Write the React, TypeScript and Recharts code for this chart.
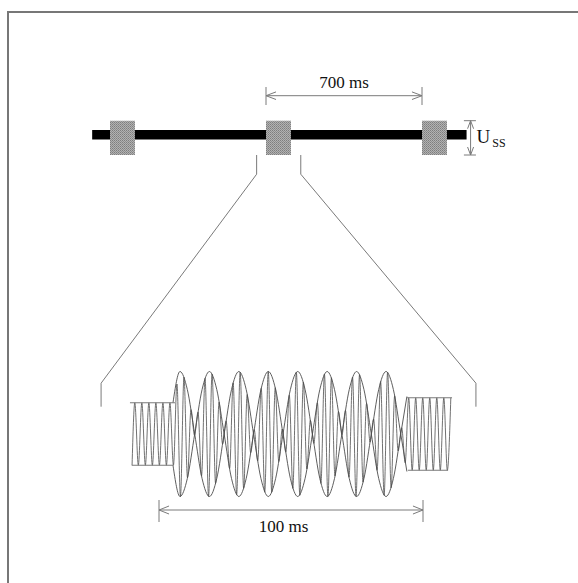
import React from 'react';
import {
  ComposedChart,
  Line,
  XAxis,
  YAxis,
  ReferenceArea,
  ReferenceDot,
} from 'recharts';

const W = 578;
const H = 583;
const SERIF = '"Liberation Serif", "Times New Roman", Times, serif';

// ---- overview strip: time in ms, level in arbitrary units ----
const burstStarts = [0, 700, 1400];
const burstLength = 112;
const stripSpan = [-80, 1600];
const stripLevel = [-0.95, 0.95];
const burstLevel = [-4.06, 2.8];
const periodMarks = [700, 1400];
const periodLabel = '700 ms';
const ussAt = 1618;

// zoom guide lines (overview units)
const guideLeftT = [658, 658, -40, -40];
const guideRightT = [856, 856, 1642, 1642];
const guideV = [-4.06, -7.9, -49.7, -54.4];

// ---- detail: time in ms, amplitude ----
const leftCarrierT = [-10.2, -9.16, -7.83, -6.5, -5.17, -3.84, -2.51, -1.18, 0.15, 1.48, 2.81, 4.14, 5.47];
const leftCarrierV = [-0.5, 0.5, -0.5, 0.5, -0.5, 0.5, -0.5, 0.5, -0.5, 0.5, -0.5, 0.5, -0.5];

const beatT = [
  6.8, 8.13, 9.46, 10.79, 12.12, 13.45, 14.78, 16.11, 17.44, 18.77, 20.1, 21.43, 22.76, 24.09,
  25.42, 26.75, 28.08, 29.41, 30.74, 32.07, 33.4, 34.73, 36.06, 37.39, 38.72, 40.05, 41.38, 42.71,
  44.04, 45.37, 46.7, 48.03, 49.36, 50.69, 52.02, 53.35, 54.68, 56.01, 57.34, 58.67, 60.0, 61.33,
  62.66, 63.99, 65.32, 66.65, 67.98, 69.31, 70.64, 71.97, 73.3, 74.63, 75.96, 77.29, 78.62, 79.95,
  81.28, 82.61, 83.94, 85.27, 86.6, 87.93, 89.26, 90.59, 91.92, 93.25,
];
const beatV = [
  0.8, -1.0, 0.91, -0.7, 0.39, -0.02, 0.35, -0.67, 0.89, -1.0, 0.96, -0.79, 0.51, -0.16,
  0.21, -0.55, 0.82, -0.97, 0.99, -0.87, 0.63, -0.3, 0.07, -0.43, 0.73, -0.93, 1.0, -0.93,
  0.74, -0.44, 0.08, -0.29, 0.62, -0.87, 0.99, -0.98, 0.83, -0.56, 0.22, -0.15, 0.5, -0.79,
  0.96, -1.0, 0.9, -0.67, 0.36, -0.01, 0.38, -0.69, 0.91, -1.0, 0.95, -0.77, 0.49, -0.13,
  0.24, -0.58, 0.84, -0.98, 0.99, -0.86, 0.61, -0.27, 0.1, -0.46,
];

const rightCarrierT = [94.58, 95.91, 97.24, 98.57, 99.9, 101.23, 102.56, 103.89, 105.22, 106.55, 107.88, 109.21, 110.54];
const rightCarrierV = [0.58, -0.58, 0.58, -0.58, 0.58, -0.58, 0.58, -0.58, 0.58, -0.58, 0.58, -0.58, 0.58];

// beat envelope: lobe peaks, shoulders and nodes
const envT = [
  5.3, 7.95, 10.74, 13.52, 16.31, 19.1, 21.89, 24.67, 27.46, 30.25, 33.04, 35.82, 38.61, 41.4,
  44.19, 46.97, 49.76, 52.55, 55.34, 58.12, 60.91, 63.7, 66.49, 69.27, 72.06, 74.85, 77.64,
  80.42, 83.21, 86.0, 88.79, 91.57, 93.9,
];
const envV = [
  0.5, 1, 0.71, 0, -0.71, -1, -0.71, 0, 0.71, 1, 0.71, 0, -0.71, -1,
  -0.71, 0, 0.71, 1, 0.71, 0, -0.71, -1, -0.71, 0, 0.71, 1, 0.71,
  0, -0.71, -1, -0.71, 0, 0.6,
];

// carrier clip levels
const leftCap = { t: [-11, 6.06], v: 0.5 };
const rightCap = { t: [93.9, 111], v: 0.58 };

const spanMs = [0, 100];
const spanLabel = '100 ms';

// pixel mapping of each panel
const overview = { x0: 110, kx: 156 / 700, y0: 134.7, ky: 5 };
const detail = { x0: 159, kx: 2.64, y0: 434, ky: 62.5 };
const domX = (s: typeof overview) => [-s.x0 / s.kx, (W - s.x0) / s.kx];
const domY = (s: typeof overview) => [-(H - s.y0) / s.ky, s.y0 / s.ky];

const pts = (xs: number[], ys: number[]) => xs.map((x, i) => ({ x, y: ys[i] }));
const seg = (x1: number, y1: number, x2: number, y2: number) => [
  { x: x1, y: y1 },
  { x: x2, y: y2 },
];

const GRAY = '#7a7a7a';
const WAVE = '#4c4c4c';

const lineProps = {
  dataKey: 'y',
  dot: false,
  activeDot: false,
  isAnimationActive: false,
  legendType: 'none' as const,
};

const App = () => {
  // overview arrow geometry
  const arrowV = 7.8;
  const headT = 45;
  const headV = 0.76;
  const ussHead = 1.6;
  const ussHalf = 13.5;
  const overviewSegs = [
    seg(periodMarks[0], arrowV, periodMarks[1], arrowV),
    seg(periodMarks[0], 9.54, periodMarks[0], 5.94),
    seg(periodMarks[1], 9.54, periodMarks[1], 5.94),
    [
      { x: periodMarks[0] + headT, y: arrowV + headV },
      { x: periodMarks[0], y: arrowV },
      { x: periodMarks[0] + headT, y: arrowV - headV },
    ],
    [
      { x: periodMarks[1] - headT, y: arrowV + headV },
      { x: periodMarks[1], y: arrowV },
      { x: periodMarks[1] - headT, y: arrowV - headV },
    ],
    seg(ussAt, burstLevel[1], ussAt, burstLevel[0]),
    seg(ussAt - 30, burstLevel[1], ussAt + 24, burstLevel[1]),
    seg(ussAt - 30, burstLevel[0], ussAt + 24, burstLevel[0]),
    [
      { x: ussAt - ussHalf, y: burstLevel[1] - ussHead },
      { x: ussAt, y: burstLevel[1] },
      { x: ussAt + ussHalf, y: burstLevel[1] - ussHead },
    ],
    [
      { x: ussAt - ussHalf, y: burstLevel[0] + ussHead },
      { x: ussAt, y: burstLevel[0] },
      { x: ussAt + ussHalf, y: burstLevel[0] + ussHead },
    ],
    pts(guideLeftT, guideV),
    pts(guideRightT, guideV),
  ];

  // detail arrow geometry
  const spanV = -1.216;
  const dHeadT = 3.8;
  const dHeadV = 0.064;
  const detailSegs = [
    seg(leftCap.t[0], leftCap.v, leftCap.t[1], leftCap.v),
    seg(-10.3, -leftCap.v, 5.3, -leftCap.v),
    seg(rightCap.t[0], rightCap.v, rightCap.t[1], rightCap.v),
    seg(94.3, -rightCap.v, 109.5, -rightCap.v),
    seg(spanMs[0], spanV, spanMs[1], spanV),
    seg(spanMs[0], -1.056, spanMs[0], -1.408),
    seg(spanMs[1], -1.056, spanMs[1], -1.408),
    [
      { x: spanMs[0] + dHeadT, y: spanV + dHeadV },
      { x: spanMs[0], y: spanV },
      { x: spanMs[0] + dHeadT, y: spanV - dHeadV },
    ],
    [
      { x: spanMs[1] - dHeadT, y: spanV + dHeadV },
      { x: spanMs[1], y: spanV },
      { x: spanMs[1] - dHeadT, y: spanV - dHeadV },
    ],
  ];

  const signal = [
    ...pts(leftCarrierT, leftCarrierV),
    ...pts(beatT, beatV),
    ...pts(rightCarrierT, rightCarrierV),
  ];
  const envUpper = pts(envT, envV);
  const envLower = pts(envT, envV.map((v) => -v));

  const margin = { top: 0, right: 0, bottom: 0, left: 0 };
  const textStyle = { fontFamily: SERIF };

  return (
    <div style={{ position: 'absolute', left: 0, top: 0, width: W, height: H, background: '#fff', overflow: 'hidden' }}>
      <div
        style={{
          position: 'absolute',
          left: 7,
          top: 11,
          width: W,
          height: H,
          borderLeft: '2px solid #777',
          borderTop: '2px solid #777',
        }}
      />
      <div style={{ position: 'absolute', left: 0, top: 0 }}>
        <ComposedChart width={W} height={H} margin={margin}>
          <defs>
            <pattern id="stipple" width="2" height="2" patternUnits="userSpaceOnUse">
              <rect width="2" height="2" fill="#b2b2b2" />
              <rect width="1" height="1" fill="#7e7e7e" />
              <rect x="1" y="1" width="1" height="1" fill="#8e8e8e" />
            </pattern>
          </defs>
          <XAxis type="number" dataKey="x" domain={domX(overview)} allowDataOverflow hide />
          <YAxis type="number" domain={domY(overview)} allowDataOverflow hide />
          <ReferenceArea
            x1={stripSpan[0]}
            x2={stripSpan[1]}
            y1={stripLevel[0]}
            y2={stripLevel[1]}
            fill="#000"
            fillOpacity={1}
          />
          {burstStarts.map((s) => (
            <ReferenceArea
              key={s}
              x1={s}
              x2={s + burstLength}
              y1={burstLevel[0]}
              y2={burstLevel[1]}
              fill="url(#stipple)"
              fillOpacity={1}
            />
          ))}
          {overviewSegs.map((d, i) => (
            <Line key={'o' + i} {...lineProps} data={d} type="linear" stroke={GRAY} strokeWidth={1} />
          ))}
          <ReferenceDot
            x={(periodMarks[0] + periodMarks[1]) / 2}
            y={9.28}
            r={0}
            shape={(p: any) => (
              <text x={p.cx} y={p.cy} textAnchor="middle" style={{ ...textStyle, fontSize: 17 }} fill="#111">
                {periodLabel}
              </text>
            )}
          />
          <ReferenceDot
            x={1645}
            y={-1.72}
            r={0}
            shape={(p: any) => (
              <text x={p.cx} y={p.cy} style={textStyle} fill="#111">
                <tspan style={{ fontSize: 19 }}>U</tspan>
                <tspan style={{ fontSize: 12 }} dx={2} dy={3.4}>
                  SS
                </tspan>
              </text>
            )}
          />
        </ComposedChart>
      </div>
      <div style={{ position: 'absolute', left: 0, top: 0 }}>
        <ComposedChart width={W} height={H} margin={margin}>
          <XAxis type="number" dataKey="x" domain={domX(detail)} allowDataOverflow hide />
          <YAxis type="number" domain={domY(detail)} allowDataOverflow hide />
          <Line {...lineProps} data={envUpper} type="monotone" stroke={WAVE} strokeWidth={0.9} />
          <Line {...lineProps} data={envLower} type="monotone" stroke={WAVE} strokeWidth={0.9} />
          <Line {...lineProps} data={signal} type="monotone" stroke={WAVE} strokeWidth={0.8} />
          {detailSegs.map((d, i) => (
            <Line key={'d' + i} {...lineProps} data={d} type="linear" stroke={GRAY} strokeWidth={1} />
          ))}
          <ReferenceDot
            x={47.2}
            y={-1.568}
            r={0}
            shape={(p: any) => (
              <text x={p.cx} y={p.cy} textAnchor="middle" style={{ ...textStyle, fontSize: 17 }} fill="#111">
                {spanLabel}
              </text>
            )}
          />
        </ComposedChart>
      </div>
    </div>
  );
};

export default App;
